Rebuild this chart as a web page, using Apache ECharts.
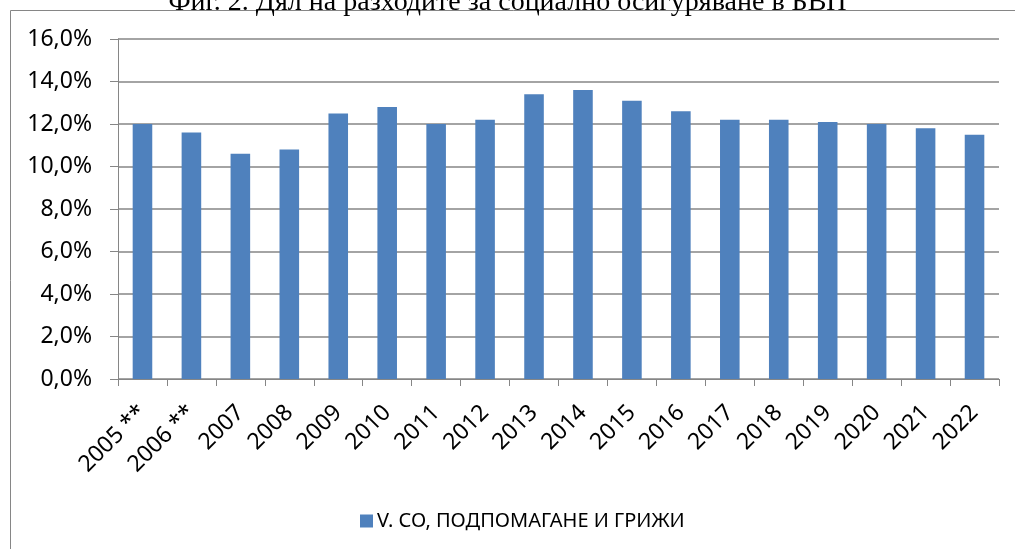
<!DOCTYPE html>
<html>
<head>
<meta charset="utf-8">
<script src="https://cdn.jsdelivr.net/npm/echarts@6/dist/echarts.min.js"></script>
<style>
  html, body { margin: 0; padding: 0; background: #fff; }
  #chart { width: 1015px; height: 549px; }
</style>
</head>
<body>
<div id="chart"></div>
<script>
const years = ['2005 **', '2006 **', '2007', '2008', '2009', '2010', '2011', '2012', '2013',
  '2014', '2015', '2016', '2017', '2018', '2019', '2020', '2021', '2022'];
const shares = [12.0, 11.6, 10.6, 10.8, 12.5, 12.8, 12.0, 12.2, 13.4,
  13.6, 13.1, 12.6, 12.2, 12.2, 12.1, 12.0, 11.8, 11.5];
const seriesName = 'V. СО, ПОДПОМАГАНЕ И ГРИЖИ';
const titleText = 'Фиг. 2. Дял на разходите за социално осигуряване в БВП';

const chart = echarts.init(document.getElementById('chart'));
const axisGray = '#868686';

chart.setOption({
  animation: false,
  title: {
    text: titleText,
    left: 'center',
    top: -16,
    textStyle: { fontFamily: 'Liberation Serif', fontSize: 28, fontWeight: 'normal', color: '#000' }
  },
  graphic: [{
    type: 'rect',
    shape: { x: 10.5, y: 10.5, width: 1020, height: 560 },
    style: { fill: 'none', stroke: axisGray, lineWidth: 1 },
    silent: true,
    z: -1
  }],
  legend: {
    data: [seriesName],
    bottom: 13,
    left: 355,
    icon: 'rect',
    itemWidth: 13,
    itemHeight: 13,
    itemGap: 5,
    textStyle: { fontFamily: 'Noto Sans', fontSize: 20, color: '#000', padding: [0, 0, 0, -1] }
  },
  grid: { left: 118, right: 16, top: 39, bottom: 170 },
  xAxis: {
    type: 'category',
    data: years,
    axisLine: { lineStyle: { color: axisGray, width: 1 } },
    axisTick: { show: true, length: 7, lineStyle: { color: axisGray } },
    axisLabel: {
      rotate: 45,
      interval: 0,
      margin: 30,
      color: '#000',
      fontFamily: 'Noto Sans',
      fontSize: 23
    }
  },
  yAxis: {
    type: 'value',
    min: 0,
    max: 16,
    interval: 2,
    axisLine: { show: true, lineStyle: { color: axisGray, width: 1 } },
    axisTick: { show: true, length: 8, lineStyle: { color: axisGray } },
    splitLine: { lineStyle: { color: axisGray, width: 1.5 } },
    axisLabel: {
      margin: 26,
      color: '#000',
      fontFamily: 'Noto Sans',
      fontSize: 23,
      formatter: v => v.toFixed(1).replace('.', ',') + '%'
    }
  },
  series: [{
    name: seriesName,
    type: 'bar',
    data: shares,
    barWidth: '40%',
    itemStyle: { color: '#4F81BD' }
  }]
});
</script>
</body>
</html>
